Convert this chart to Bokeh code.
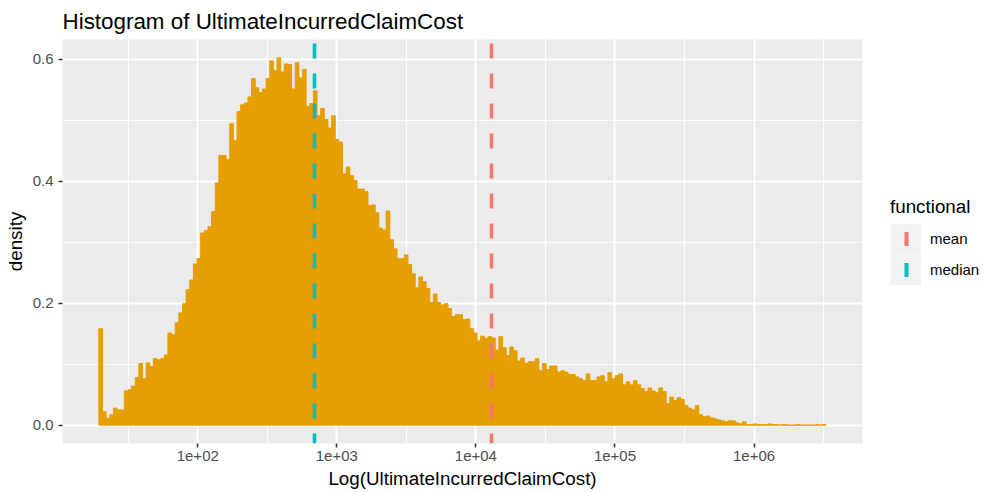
import numpy as np
from bokeh.plotting import figure
from bokeh.models import Range1d, FixedTicker, Legend, LegendItem, ColumnDataSource
from bokeh.embed import file_html
from bokeh.resources import INLINE

# ---------------- data ----------------
bin_low = 19.45        # left edge of the first bin (claim cost)
bin_high = 3.30e6      # right edge of the last bin (claim cost)
density = [
    0.158, 0.022, 0.011, 0.017, 0.028, 0.025, 0.025, 0.056, 0.058, 0.064,
    0.078, 0.101, 0.076, 0.102, 0.096, 0.109, 0.107, 0.109, 0.115, 0.151,
    0.148, 0.168, 0.184, 0.199, 0.222, 0.238, 0.264, 0.273, 0.315, 0.319,
    0.325, 0.350, 0.397, 0.442, 0.442, 0.435, 0.494, 0.466, 0.514, 0.525,
    0.528, 0.538, 0.568, 0.553, 0.545, 0.551, 0.568, 0.597, 0.581, 0.602,
    0.579, 0.592, 0.591, 0.551, 0.594, 0.569, 0.583, 0.522, 0.527, 0.548,
    0.507, 0.519, 0.501, 0.487, 0.507, 0.468, 0.464, 0.412, 0.423, 0.409,
    0.401, 0.387, 0.387, 0.383, 0.360, 0.361, 0.348, 0.323, 0.320, 0.351,
    0.304, 0.289, 0.273, 0.273, 0.279, 0.263, 0.248, 0.225, 0.243, 0.235,
    0.224, 0.201, 0.215, 0.201, 0.197, 0.199, 0.191, 0.178, 0.181, 0.181,
    0.173, 0.174, 0.158, 0.151, 0.138, 0.146, 0.142, 0.145, 0.143, 0.123,
    0.145, 0.127, 0.114, 0.128, 0.122, 0.105, 0.110, 0.101, 0.104, 0.104,
    0.109, 0.089, 0.101, 0.091, 0.097, 0.097, 0.087, 0.089, 0.087, 0.083,
    0.083, 0.079, 0.076, 0.073, 0.084, 0.073, 0.073, 0.079, 0.081, 0.071,
    0.086, 0.076, 0.081, 0.084, 0.066, 0.071, 0.066, 0.073, 0.066, 0.060,
    0.055, 0.061, 0.056, 0.053, 0.061, 0.055, 0.035, 0.046, 0.040, 0.045,
    0.042, 0.032, 0.028, 0.025, 0.032, 0.017, 0.0137, 0.015, 0.012, 0.0104,
    0.0087, 0.0071, 0.0055, 0.0071, 0.0071, 0.0038, 0.0022, 0.0055, 0.0008, 0.0008,
    0.002, 0.0008, 0.0008, 0.0008, 0.002, 0.0008, 0.0008, 0.0, 0.0008, 0.0,
    0.0, 0.0, 0.0008, 0.0, 0.0, 0.0, 0.0, 0.0008, 0.0, 0.0008,
]
stat_names = ["mean", "median"]
stat_values = [13000.0, 690.0]
stat_colors = ["#F8766D", "#00BFC4"]
x_ticks = [1e2, 1e3, 1e4, 1e5, 1e6]
x_tick_labels = ["1e+02", "1e+03", "1e+04", "1e+05", "1e+06"]
x_minor_ticks = [10 ** 1.5, 10 ** 2.5, 10 ** 3.5, 10 ** 4.5, 10 ** 5.5, 10 ** 6.5]
y_ticks = [0.0, 0.2, 0.4, 0.6]
y_minor_ticks = [0.1, 0.3, 0.5]

# ---------------- geometry of the bins (log10 space) ----------------
n_bins = len(density)
log_edges = np.linspace(np.log10(bin_low), np.log10(bin_high), n_bins + 1)
src = ColumnDataSource(dict(left=10 ** log_edges[:-1], right=10 ** log_edges[1:],
                            top=density, bottom=[0.0] * n_bins))
span = log_edges[-1] - log_edges[0]
x_lo = 10 ** (log_edges[0] - 0.05 * span)
x_hi = 10 ** (log_edges[-1] + 0.05 * span)
ymax = max(density)

FONT = "Liberation Sans"

p = figure(frame_width=800, frame_height=404, x_axis_type="log", output_backend="svg",
           toolbar_location=None,
           x_range=Range1d(x_lo, x_hi), y_range=Range1d(-0.05 * ymax, 1.05 * ymax),
           min_border_left=62, min_border_right=121, min_border_top=39, min_border_bottom=49,
           background_fill_color="#EBEBEB", border_fill_color="white",
           title="Histogram of UltimateIncurredClaimCost")
p.outline_line_color = None

p.title.text_font = FONT
p.title.text_font_size = "22.4px"
p.title.text_font_style = "normal"
p.title.text_color = "black"
p.title.offset = 0
p.title.standoff = 12

# grid
p.xgrid.ticker = FixedTicker(ticks=x_ticks, minor_ticks=x_minor_ticks)
p.ygrid.ticker = FixedTicker(ticks=y_ticks, minor_ticks=y_minor_ticks)
for g in (p.xgrid[0], p.ygrid[0]):
    g.grid_line_color = "white"
    g.grid_line_width = 1.8
    g.minor_grid_line_color = "white"
    g.minor_grid_line_width = 0.9

# axes
p.xaxis.ticker = FixedTicker(ticks=x_ticks, minor_ticks=x_minor_ticks)
p.xaxis.major_label_overrides = {t: lab for t, lab in zip(x_ticks, x_tick_labels)}
p.yaxis.ticker = FixedTicker(ticks=y_ticks, minor_ticks=y_minor_ticks)
p.yaxis.major_label_overrides = {t: f"{t:.1f}" for t in y_ticks}
for ax in (p.xaxis[0], p.yaxis[0]):
    ax.axis_line_color = None
    ax.minor_tick_line_color = None
    ax.major_tick_line_color = "#333333"
    ax.major_tick_line_width = 1.5
    ax.major_tick_in = 0
    ax.major_tick_out = 4
    ax.major_label_text_font = FONT
    ax.major_label_text_font_size = "15px"
    ax.major_label_text_color = "#4D4D4D"
    ax.axis_label_text_font = FONT
    ax.axis_label_text_font_size = "18.8px"
    ax.axis_label_text_font_style = "normal"
    ax.axis_label_text_color = "black"
p.xaxis.axis_label = "Log(UltimateIncurredClaimCost)"
p.yaxis.axis_label = "density"
p.xaxis.major_label_standoff = 3
p.xaxis.axis_label_standoff = 4
p.yaxis.major_label_standoff = 5
p.yaxis.axis_label_standoff = 4

# histogram bars
p.quad(left="left", right="right", top="top", bottom="bottom", source=src,
       fill_color="#E69F00", line_color="#E69F00", line_width=1.0)

# mean / median dashed lines
for v, c in zip(stat_values, stat_colors):
    p.vspan(x=[v], line_color=c, line_width=3.6, line_dash="15 15", line_dash_offset=26)

# legend keys: hidden spans (left of the visible x range) that only draw legend glyphs
items = []
for name, c in zip(stat_names, stat_colors):
    key_bg = p.vspan(x=[1.0], line_color="#F2F2F2", line_width=31)
    key_mark = p.vspan(x=[1.0], line_color=c, line_width=14, line_dash="0 14 4 100")
    items.append(LegendItem(label=name, renderers=[key_bg, key_mark]))

legend = Legend(items=items, title="functional", location=(28, 158),
                glyph_width=31, glyph_height=31, spacing=0, padding=0, margin=0,
                label_standoff=9, border_line_color=None, background_fill_alpha=0,
                label_text_font=FONT, label_text_font_size="15px", label_text_color="black",
                title_text_font=FONT, title_text_font_size="18.8px", title_text_font_style="normal",
                title_text_color="black", title_standoff=5)
p.add_layout(legend, "right")

open("out.html", "w").write(file_html(p, INLINE))
